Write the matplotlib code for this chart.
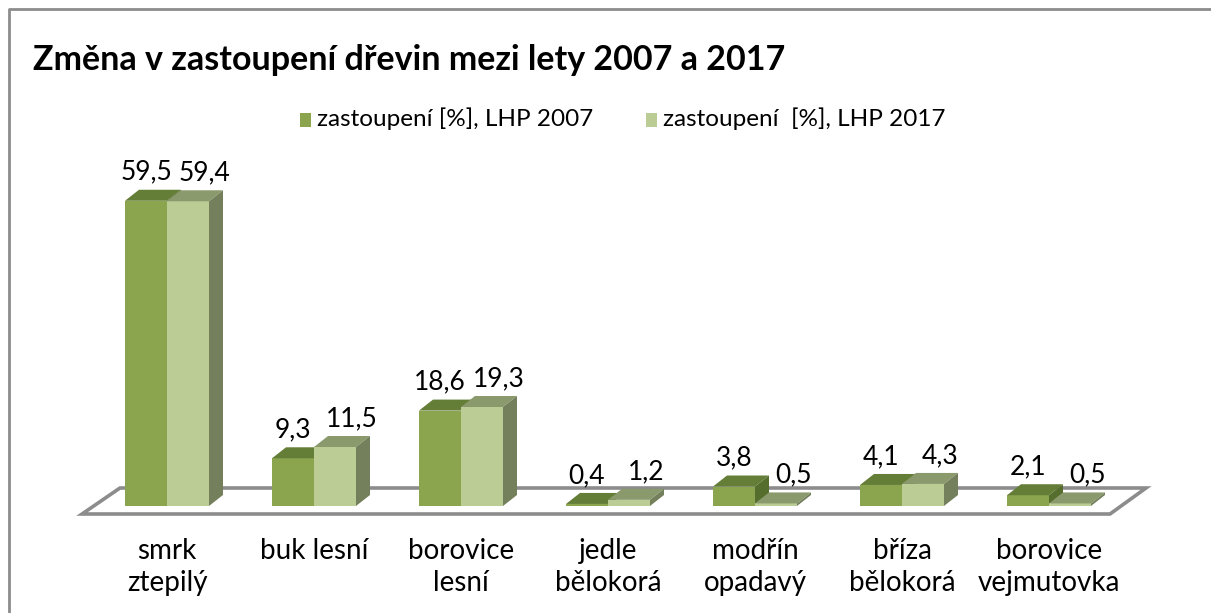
import matplotlib
matplotlib.use("Agg")
import matplotlib.pyplot as plt
from matplotlib.patches import Polygon, Rectangle

plt.rcParams['font.family'] = ['Lato', 'DejaVu Sans']

# data
categories = ["smrk\nztepilý", "buk lesní", "borovice\nlesní", "jedle\nbělokorá",
              "modřín\nopadavý", "bříza\nbělokorá", "borovice\nvejmutovka"]
lhp_2007 = [59.5, 9.3, 18.6, 0.4, 3.8, 4.1, 2.1]
lhp_2017 = [59.4, 11.5, 19.3, 1.2, 0.5, 4.3, 0.5]
series_names = ["zastoupení [%], LHP 2007", "zastoupení  [%], LHP 2017"]
title = "Změna v zastoupení dřevin mezi lety 2007 a 2017"

# colours: front, top, side
dark = ("#8AA54E", "#647D37", "#566E2D")
light = ("#BBCC94", "#8B9A6C", "#74805C")

W, H = 1211, 613
fig = plt.figure(figsize=(W / 100, H / 100), dpi=100)
ax = fig.add_axes([0, 0, 1, 1])

# pixel layout of the plot
cat_px = 147.0     # px per category
x0_px = 167.0      # px of first category centre
base_px = 506.0    # px (from top) of value 0
unit_px = 5.13     # px per percent
ax.set_xlim(-x0_px / cat_px, (W - x0_px) / cat_px)
ax.set_ylim(-(H - base_px) / unit_px, base_px / unit_px)
ax.axis('off')

bw = 42 / cat_px          # bar width
ddx = 14 / cat_px         # depth offset x
ddy = 11 / unit_px        # depth offset y
n = len(categories)

# floor
fl_front = -8 / unit_px
fl_back = 18 / unit_px
floor = Polygon([(-0.578, fl_front), (n - 1 + 0.415, fl_front),
                 (n - 1 + 0.66, fl_back), (-0.32, fl_back)],
                closed=True, facecolor='white', edgecolor='#8c8c8c', lw=2.6, zorder=1)
ax.add_patch(floor)


def bar3d(x, h, cols, z):
    fr, tp, sd = cols
    ax.add_patch(Rectangle((x, 0), bw, h, facecolor=fr, edgecolor='none', zorder=z))
    ax.add_patch(Polygon([(x, h), (x + bw, h), (x + bw + ddx, h + ddy), (x + ddx, h + ddy)],
                         closed=True, facecolor=tp, edgecolor='none', zorder=z))
    ax.add_patch(Polygon([(x + bw, 0), (x + bw + ddx, ddy), (x + bw + ddx, h + ddy), (x + bw, h)],
                         closed=True, facecolor=sd, edgecolor='none', zorder=z))


def fmt(v):
    return f"{v:.1f}".replace('.', ',')


lab_off = 10 / unit_px
shift = 17 / cat_px
for i in range(n):
    z = 2 + i * 2
    bar3d(i - bw, lhp_2007[i], dark, z)
    bar3d(i, lhp_2017[i], light, z + 1)
    ax.text(i - bw / 2, lhp_2007[i] + ddy + lab_off, fmt(lhp_2007[i]),
            ha='center', va='baseline', fontsize=19, zorder=50)
    ax.text(i + bw / 2 + shift, lhp_2017[i] + ddy + lab_off, fmt(lhp_2017[i]),
            ha='center', va='baseline', fontsize=19, zorder=50)
    ax.text(i, -32 / unit_px, categories[i], ha='center', va='top',
            fontsize=20, linespacing=1.3, zorder=50)

# title and legend
fig.text(33 / W, 1 - 70 / H, title, fontsize=24.5, fontweight='bold', ha='left', va='baseline')
leg = [(300, dark[0], series_names[0]), (646, light[0], series_names[1])]
for lx, col, name in leg:
    fig.patches.append(Rectangle((lx / W, 1 - 127 / H), 11 / W, 14 / H, transform=fig.transFigure,
                                 facecolor=col, edgecolor='none'))
    fig.text((lx + 17) / W, 1 - 126 / H, name, fontsize=17.5, ha='left', va='baseline')

# chart border
fig.lines.append(plt.Line2D([9 / W, 9 / W, 1], [0, 1 - 9 / H, 1 - 9 / H],
                            transform=fig.transFigure, color='#8c8c8c', lw=2))

fig.savefig("out.png", dpi=100)
